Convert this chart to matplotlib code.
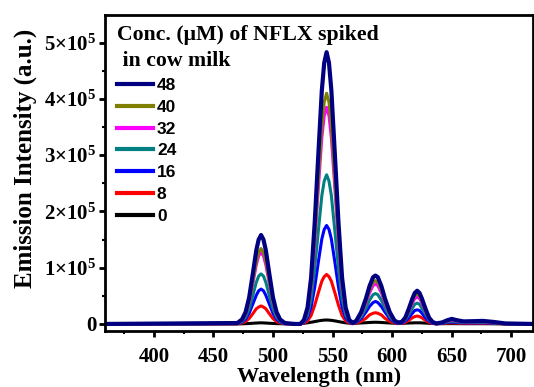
import matplotlib
matplotlib.use("Agg")
import matplotlib.pyplot as plt
import numpy as np
from matplotlib.ticker import MultipleLocator, FuncFormatter

plt.rcParams['font.family'] = 'Liberation Serif'
plt.rcParams['font.weight'] = 'bold'
plt.rcParams['mathtext.fontset'] = 'custom'
plt.rcParams['mathtext.rm'] = 'Liberation Serif:bold'
plt.rcParams['mathtext.it'] = 'Liberation Serif:bold'
plt.rcParams['mathtext.bf'] = 'Liberation Serif:bold'

# wavelength grid (nm)
wl = [360, 470, 474, 477, 480, 483, 486, 488, 490, 492, 494, 497, 500, 503, 506, 510, 518,
      523, 526, 529, 532, 535, 538, 541, 543, 545, 547, 549, 552, 555, 558, 561, 564,
      567, 570, 574, 578, 581, 584, 586, 588, 591, 594, 598, 602,
      605, 608, 611, 614, 617, 619, 621, 623, 625, 628, 631, 634, 637,
      642, 646, 650, 654, 660, 670, 676, 685, 695, 718]

# intensities in units of 1e5 a.u.
c48 = [0, 0.016, 0.079, 0.21, 0.47, 0.88, 1.31, 1.50, 1.58, 1.50, 1.31, 0.88, 0.47, 0.21, 0.079, 0.016, 0,
       0, 0.072, 0.29, 0.82, 1.79, 2.99, 4.15, 4.64, 4.83, 4.64, 4.15, 2.99, 1.79, 0.82, 0.29, 0.072,
       0.017, 0.060, 0.21, 0.45, 0.67, 0.83, 0.86, 0.83, 0.67, 0.45, 0.21, 0.060,
       0.026, 0.035, 0.11, 0.27, 0.45, 0.55, 0.59, 0.55, 0.45, 0.27, 0.11, 0.035, 0.009,
       0.027, 0.063, 0.09, 0.068, 0.045, 0.05, 0.054, 0.036, 0.009, 0]
c40 = [0, 0.013, 0.067, 0.18, 0.40, 0.75, 1.11, 1.27, 1.34, 1.27, 1.11, 0.75, 0.40, 0.18, 0.067, 0.013, 0,
       0, 0.062, 0.25, 0.70, 1.52, 2.54, 3.53, 3.94, 4.10, 3.94, 3.53, 2.54, 1.52, 0.70, 0.25, 0.062,
       0.015, 0.054, 0.18, 0.40, 0.60, 0.74, 0.77, 0.74, 0.60, 0.40, 0.18, 0.054,
       0.023, 0.032, 0.10, 0.24, 0.41, 0.50, 0.53, 0.50, 0.41, 0.24, 0.10, 0.032, 0.008,
       0.024, 0.056, 0.08, 0.06, 0.04, 0.044, 0.048, 0.032, 0.008, 0]
c32 = [0, 0.013, 0.064, 0.17, 0.38, 0.71, 1.05, 1.21, 1.27, 1.21, 1.05, 0.71, 0.38, 0.17, 0.064, 0.013, 0,
       0, 0.058, 0.23, 0.65, 1.42, 2.39, 3.31, 3.70, 3.85, 3.70, 3.31, 2.39, 1.42, 0.65, 0.23, 0.058,
       0.014, 0.050, 0.17, 0.37, 0.55, 0.68, 0.71, 0.68, 0.55, 0.37, 0.17, 0.050,
       0.021, 0.029, 0.091, 0.22, 0.37, 0.45, 0.48, 0.45, 0.37, 0.22, 0.091, 0.029, 0.007,
       0.021, 0.049, 0.07, 0.053, 0.035, 0.039, 0.042, 0.028, 0.007, 0]
c24 = [0, 0.009, 0.045, 0.12, 0.27, 0.50, 0.74, 0.85, 0.89, 0.85, 0.74, 0.50, 0.27, 0.12, 0.045, 0.009, 0,
       0, 0.040, 0.16, 0.45, 0.98, 1.64, 2.28, 2.54, 2.65, 2.54, 2.28, 1.64, 0.98, 0.45, 0.16, 0.040,
       0.011, 0.038, 0.13, 0.28, 0.42, 0.52, 0.54, 0.52, 0.42, 0.28, 0.13, 0.038,
       0.017, 0.022, 0.070, 0.17, 0.28, 0.35, 0.37, 0.35, 0.28, 0.17, 0.070, 0.022, 0.006,
       0.015, 0.035, 0.05, 0.038, 0.025, 0.028, 0.03, 0.02, 0.005, 0]
c16 = [0, 0.006, 0.031, 0.084, 0.19, 0.35, 0.51, 0.59, 0.62, 0.59, 0.51, 0.35, 0.19, 0.084, 0.031, 0.006, 0,
       0, 0.026, 0.11, 0.30, 0.65, 1.09, 1.51, 1.68, 1.75, 1.68, 1.51, 1.09, 0.65, 0.30, 0.11, 0.026,
       0.008, 0.028, 0.096, 0.21, 0.31, 0.38, 0.40, 0.38, 0.31, 0.21, 0.096, 0.028,
       0.012, 0.015, 0.048, 0.11, 0.19, 0.24, 0.25, 0.24, 0.19, 0.11, 0.048, 0.015, 0.004,
       0.011, 0.025, 0.035, 0.026, 0.018, 0.019, 0.021, 0.014, 0.004, 0]
c8 = [0, 0.003, 0.016, 0.043, 0.096, 0.18, 0.27, 0.30, 0.32, 0.30, 0.27, 0.18, 0.096, 0.043, 0.016, 0.003, 0,
      0, 0.013, 0.053, 0.15, 0.33, 0.55, 0.76, 0.84, 0.88, 0.84, 0.76, 0.55, 0.33, 0.15, 0.053, 0.013,
      0.004, 0.014, 0.048, 0.10, 0.16, 0.19, 0.20, 0.19, 0.16, 0.10, 0.048, 0.014,
      0.006, 0.008, 0.027, 0.063, 0.11, 0.13, 0.14, 0.13, 0.11, 0.063, 0.027, 0.008, 0.002,
      0.006, 0.014, 0.02, 0.015, 0.01, 0.011, 0.012, 0.008, 0.002, 0]
c0 = [0, 0, 0.002, 0.005, 0.008, 0.012, 0.016, 0.018, 0.02, 0.018, 0.016, 0.012, 0.009, 0.006, 0.004, 0.003, 0.004,
      0.008, 0.012, 0.02, 0.03, 0.042, 0.054, 0.064, 0.068, 0.07, 0.068, 0.064, 0.054, 0.042, 0.03, 0.02, 0.014,
      0.012, 0.013, 0.017, 0.022, 0.026, 0.029, 0.03, 0.029, 0.026, 0.022, 0.017, 0.012,
      0.01, 0.011, 0.013, 0.016, 0.018, 0.02, 0.02, 0.02, 0.018, 0.015, 0.011, 0.008, 0.006,
      0.005, 0.005, 0.006, 0.005, 0.004, 0.004, 0.004, 0.003, 0.001, 0]

labels = ['48', '40', '32', '24', '16', '8', '0']
series = [c48, c40, c32, c24, c16, c8, c0]
colors = ['#000080', '#808000', '#ff00ff', '#008080', '#0000ff', '#ff0000', '#000000']
widths = [3.0, 2.2, 2.2, 2.2, 2.2, 2.2, 2.2]

fig = plt.figure(figsize=(5.34, 3.87), dpi=100)
ax = fig.add_axes([0.1966, 0.1455, 0.801, 0.8157])

lines = {}
# lowest concentration first so the 48 curve ends on top
for lab, y, c, lw in reversed(list(zip(labels, series, colors, widths))):
    lines[lab], = ax.plot(wl, np.array(y) * 1e5, color=c, lw=lw, label=lab)

ax.set_xlim(359, 718)
ax.set_ylim(-12000, 549000)

ax.xaxis.set_major_locator(MultipleLocator(50))
ax.xaxis.set_minor_locator(MultipleLocator(25))
ax.yaxis.set_major_locator(MultipleLocator(1e5))
ax.yaxis.set_minor_locator(MultipleLocator(0.5e5))

def yfmt(v, pos):
    n = int(round(v / 1e5))
    if n == 0:
        return '0'
    return r'$%d{\times}10^{5}$' % n
ax.yaxis.set_major_formatter(FuncFormatter(yfmt))

for s in ax.spines.values():
    s.set_linewidth(2)
ax.tick_params(which='major', direction='out', length=4.5, width=2, labelsize=15, top=False, right=False)
ax.tick_params(which='minor', direction='out', length=2.5, width=1.5, top=False, right=False)
ax.tick_params(axis='x', which='major', pad=7)
ax.tick_params(axis='y', which='major', pad=1.5)

ax.set_xlabel('Wavelength (nm)', fontsize=16, fontweight='bold', labelpad=0)
ax.set_ylabel('Emission Intensity (a.u.)', fontsize=18, fontweight='bold')
ax.yaxis.set_label_coords(-0.159, 0.545)

leg = ax.legend([lines[l] for l in labels], labels, loc='upper left',
                bbox_to_anchor=(0.028, 0.967),
                title='Conc. (\u03bcM) of NFLX spiked\n in cow milk',
                frameon=False, handlelength=2.1, handletextpad=0.2,
                labelspacing=0.38, borderaxespad=0, borderpad=0,
                prop={'family': 'Liberation Sans', 'weight': 'bold', 'size': 12.5},
                alignment='left')
leg.get_title().set_fontsize(15.7)
leg.get_title().set_fontweight('bold')
leg.get_title().set_family('Liberation Serif')
leg.get_title().set_linespacing(1.4)
for h in leg.get_lines():
    h.set_linewidth(3)

fig.savefig('out.png', dpi=100)
